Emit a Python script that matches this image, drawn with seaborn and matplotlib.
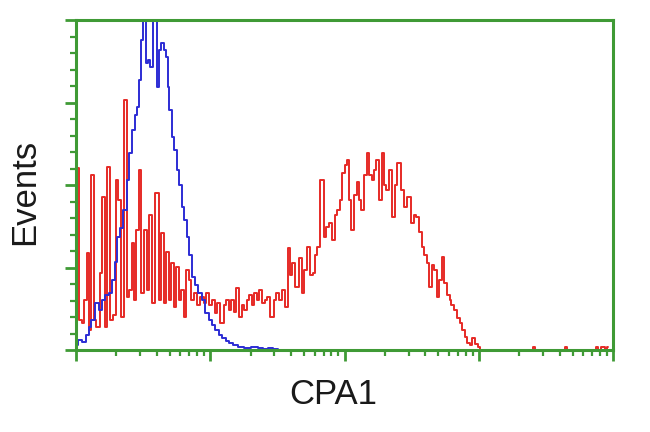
import numpy as np
import pandas as pd
import matplotlib
matplotlib.use("Agg")
import matplotlib.pyplot as plt
import seaborn as sns
from matplotlib.ticker import FixedLocator, MultipleLocator

# Channel scale: 1024 channels spanning 4 log decades
red_channel = [2, 8, 13, 19, 23, 27, 31, 36, 42, 48, 52, 57, 61, 67, 73, 78, 84, 88, 94, 99,
               105, 107, 113, 117, 122, 126, 132, 138, 141, 147, 155, 160, 164, 170, 174, 180,
               183, 189, 193, 199, 202, 208, 212, 218, 222, 227, 233, 241, 246, 250, 256, 262,
               267, 271, 279, 285, 288, 294, 298, 304, 308, 313, 319, 323, 329, 332, 338, 342,
               348, 351, 357, 363, 367, 374, 380, 384, 390, 395, 401, 407, 411, 414, 422, 428,
               434, 437, 443, 449, 453, 458, 462, 470, 476, 479, 485, 491, 497, 500, 506, 510,
               514, 518, 523, 527, 533, 537, 542, 546, 552, 556, 562, 565, 571, 575, 581, 586,
               590, 594, 600, 605, 611, 615, 623, 628, 634, 642, 647, 651, 657, 661, 667, 670,
               676, 680, 686, 691, 695, 699, 705, 711, 714, 718, 724, 730, 733, 739, 743, 749,
               753, 758, 764, 768, 774, 870, 874, 878, 930, 934, 938, 990, 994, 998, 1006, 1010, 1014]
red_events = [182, 30, 27, 50, 97, 20, 175, 30, 23, 77, 153, 23, 183, 30, 35, 170, 150, 33, 250, 53,
              60, 107, 50, 120, 180, 57, 120, 60, 135, 47, 157, 50, 117, 47, 98, 50,
              87, 43, 83, 50, 60, 33, 80, 70, 50, 57, 45, 53, 47, 57, 45, 50,
              37, 47, 27, 45, 50, 40, 50, 38, 62, 33, 45, 40, 50, 55, 45, 57,
              50, 60, 47, 50, 53, 33, 50, 57, 50, 60, 43, 102, 75, 87, 63, 92,
              57, 80, 103, 75, 77, 95, 103, 170, 113, 123, 127, 110, 135, 140, 150, 177,
              185, 190, 150, 120, 155, 168, 150, 140, 175, 197, 175, 170, 180, 190, 150, 197,
              165, 160, 180, 133, 165, 187, 160, 143, 153, 127, 135, 133, 118, 103, 95, 87,
              63, 85, 80, 53, 70, 93, 67, 55, 50, 45, 40, 32, 27, 20, 13, 7,
              5, 12, 6, 3, 0, 0, 3, 0, 0, 3, 0, 0, 3, 0, 3, 0, 3]

blue_channel = [0, 8, 15, 23, 27, 32, 40, 46, 52, 59, 65, 71, 76, 80, 86, 94, 99, 103, 109, 115,
                118, 122, 126, 128, 132, 136, 139, 145, 149, 153, 155, 160, 164, 170, 174, 176,
                180, 185, 189, 195, 199, 204, 208, 214, 218, 223, 229, 237, 243, 250, 256, 262,
                269, 275, 283, 288, 294, 304, 313, 327, 342, 351, 361, 370, 380, 390]
blue_events = [5, 10, 8, 15, 23, 30, 47, 40, 50, 55, 57, 70, 88, 113, 122, 140, 170, 197, 220, 235,
               243, 270, 310, 345, 345, 287, 290, 283, 345, 340, 263, 300, 307, 300, 293, 263,
               240, 213, 200, 180, 165, 143, 130, 113, 95, 73, 65, 57, 50, 37, 30, 25,
               20, 15, 12, 9, 7, 5, 3, 2, 3, 2, 1, 2, 1, 0]

red_df = pd.DataFrame({"channel": red_channel, "events": red_events})
blue_df = pd.DataFrame({"channel": blue_channel, "events": blue_events})

sns.set_style("white")
plt.rcParams["font.family"] = ["Liberation Sans", "DejaVu Sans"]

fig = plt.figure(figsize=(6.5, 4.32), dpi=100)
ax = fig.add_axes([76 / 650, 1 - 350 / 432, (613 - 76) / 650, (350 - 20) / 432])

sns.lineplot(data=red_df, x="channel", y="events", ax=ax, color="#e62a26",
             linewidth=1.4, drawstyle="steps-mid", estimator=None, sort=True)
sns.lineplot(data=blue_df, x="channel", y="events", ax=ax, color="#2c2cd4",
             linewidth=1.4, drawstyle="steps-mid", estimator=None, sort=True)

ax.set_xlim(0, 1024)
ax.set_ylim(0, 330)

green = "#3f9a35"
for s in ax.spines.values():
    s.set_color(green)
    s.set_linewidth(2.2)
    s.set_visible(True)

major_x = [0, 256, 512, 768, 1024]
minor_x = [256 * (d + np.log10(k)) for d in range(4) for k in range(2, 10)]
ax.xaxis.set_major_locator(FixedLocator(major_x))
ax.xaxis.set_minor_locator(FixedLocator(minor_x))
ax.yaxis.set_major_locator(MultipleLocator(82.5))
ax.yaxis.set_minor_locator(MultipleLocator(16.5))
ax.tick_params(axis="both", which="both", direction="out", color=green,
               labelbottom=False, labelleft=False, bottom=True, left=True,
               top=False, right=False)
ax.tick_params(axis="both", which="major", length=8, width=2)
ax.tick_params(axis="both", which="minor", length=4, width=1.6)

ax.set_xlabel("")
ax.set_ylabel("")
fig.text(333 / 650, 1 - 395 / 432, "CPA1", ha="center", va="center",
         fontsize=25, color="#1a1a1a")
fig.text(25 / 650, 1 - 192 / 432, "Events", ha="center", va="center",
         rotation=90, fontsize=25, color="#1a1a1a")

fig.savefig("out.png", dpi=100, facecolor="white")
